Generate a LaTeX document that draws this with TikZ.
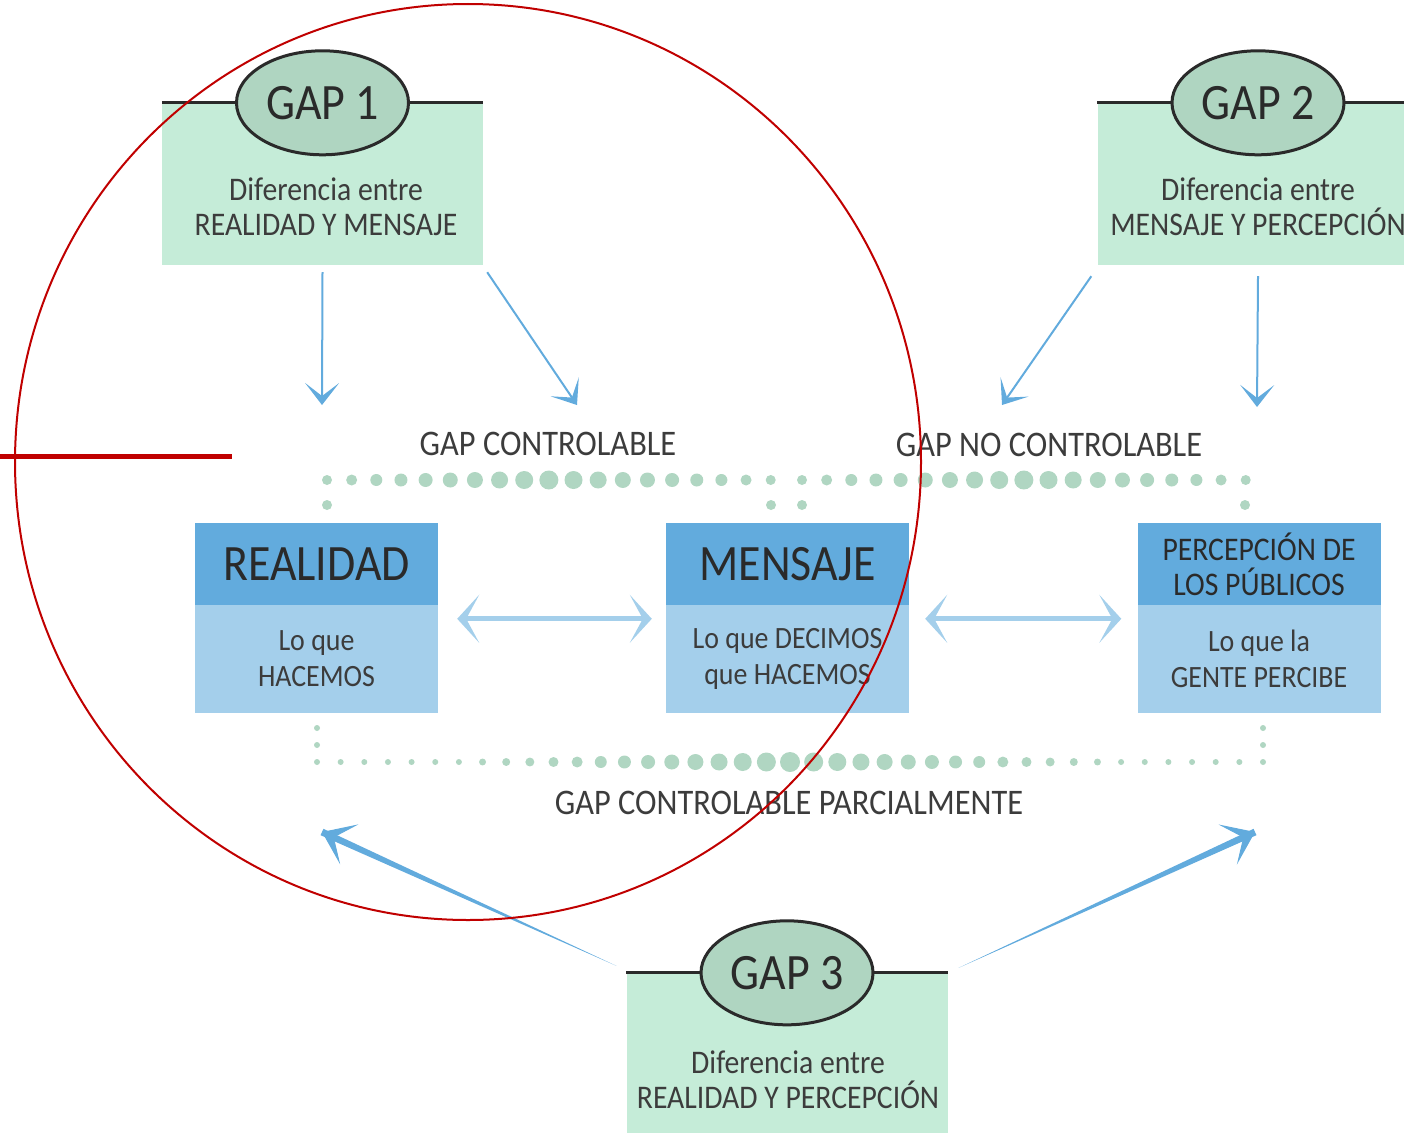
\documentclass[tikz,border=0pt]{standalone}
\usepackage{fontspec}
\setmainfont{Carlito}[FakeStretch=0.9]
\usetikzlibrary{calc,shapes.geometric,arrows.meta}
\definecolor{mint}{HTML}{C5ECD8}
\definecolor{sage}{HTML}{AFD5C1}
\definecolor{dotgreen}{HTML}{B0D6C2}
\definecolor{bluedark}{HTML}{62ABDD}
\definecolor{bluelight}{HTML}{A4CFEB}
\definecolor{inkdark}{HTML}{2A2A2A}
\definecolor{inkgrey}{HTML}{3C3C3C}
\definecolor{markred}{HTML}{C00000}
\tikzset{>=latex,
  gapbox/.style={fill=mint, minimum width=321pt, minimum height=162pt, inner sep=0pt},
  gapoval/.style={ellipse, draw=inkdark, fill=sage, line width=3pt, minimum width=172pt,
    minimum height=104pt, inner sep=0pt, text=inkdark, font=\fontsize{51}{56}\selectfont},
  gaptext/.style={align=center, inner sep=0pt, text=inkgrey, font=\fontsize{33}{35}\selectfont},
  headbox/.style={fill=bluedark, minimum width=243pt, minimum height=82pt, inner sep=0pt,
    align=center, text=inkdark, font=\fontsize{51}{56}\selectfont},
  bodybox/.style={fill=bluelight, minimum width=243pt, minimum height=108pt, inner sep=0pt,
    align=center, text=inkgrey, font=\fontsize{31}{36}\selectfont},
  zonelabel/.style={inner sep=0pt, text=inkgrey, font=\fontsize{36}{40}\selectfont},
  thinarrow/.style={draw=bluedark, line width=2pt, -{Stealth[length=22pt,width=34pt,inset=13pt]}},
  twoway/.style={draw=bluelight, line width=5pt,
    {Stealth[length=22pt,width=48pt,inset=13pt]}-{Stealth[length=22pt,width=48pt,inset=13pt]}},
}
\begin{document}
\begin{tikzpicture}[x=1pt, y=-1pt]
  \useasboundingbox (0,0) rectangle (1404,1132);

  % gap boxes
  \node[gapbox] (g1) at (322.5,184) {};
  \node[gapbox] (g2) at (1258,184) {};
  \node[gapbox] (g3) at (787,1054) {};
  \foreach \g in {g1,g2,g3}
    \draw[inkdark, line width=3pt] (\g.north west) -- (\g.north east);
  \node[gapoval] (g1o) at (g1.north) {GAP 1};
  \node[gapoval] (g2o) at (g2.north) {GAP 2};
  \node[gapoval] (g3o) at (g3.north) {GAP 3};
  \node[gaptext] (g1t) at (326,207) {Diferencia entre\\REALIDAD Y MENSAJE};
  \node[gaptext] (g2t) at (1258,207) {Diferencia entre\\MENSAJE Y PERCEPCIÓN};
  \node[gaptext] (g3t) at (788,1080) {Diferencia entre\\REALIDAD Y PERCEPCIÓN};

  % dotted brackets
  \foreach \sx in {327,802}
    \foreach \i in {0,...,18} {
      \pgfmathsetmacro\r{5+4.5*(1-abs(\i-9)/9)}
      \fill[dotgreen] (\sx+\i*24.65,480) circle[radius=\r pt];
    }
  \foreach \px in {327,771,802,1245}
    \fill[dotgreen] (\px,505) circle[radius=5pt];
  \foreach \i in {0,...,40} {
    \pgfmathsetmacro\r{3+7*max(0,1-abs(317+\i*23.65-790)/330)}
    \fill[dotgreen] (317+\i*23.65,762) circle[radius=\r pt];
  }
  \foreach \px in {317,1263}
    \foreach \py in {728,745}
      \fill[dotgreen] (\px,\py) circle[radius=3pt];
  \node[zonelabel] (ctrl) at (548,444) {GAP CONTROLABLE};
  \node[zonelabel] (noctrl) at (1049,445) {GAP NO CONTROLABLE};
  \node[zonelabel] (partial) at (789,803) {GAP CONTROLABLE PARCIALMENTE};

  % realidad, mensaje, percepcion
  \node[headbox] (real) at (316.5,564) {REALIDAD};
  \node[bodybox] (realb) at (316.5,659) {Lo que\\HACEMOS};
  \node[headbox] (mens) at (787.5,564) {MENSAJE};
  \node[bodybox] (mensb) at (787.5,659) {Lo que DECIMOS\\que HACEMOS};
  \node[headbox, font=\fontsize{33}{35}\selectfont] (perc) at (1259,564) {PERCEPCIÓN DE\\LOS PÚBLICOS};
  \node[bodybox] (percb) at (1259,659) {Lo que la\\GENTE PERCIBE};
  \draw[twoway] ([shift={(19pt,-14pt)}]realb.north east) -- ([shift={(-14pt,-14pt)}]mensb.north west);
  \draw[twoway] ([shift={(16pt,-14pt)}]mensb.north east) -- ([shift={(-16pt,-14pt)}]percb.north west);

  % arrows from the gaps
  \coordinate (a1) at (322,405);
  \coordinate (a2) at (577,405);
  \coordinate (a3) at (1002,405);
  \coordinate (a4) at (1257,407);
  \draw[thinarrow] ([yshift=-7pt]g1.south) -- (a1);
  \draw[thinarrow] ([shift={(4pt,-7pt)}]g1.south east) -- (a2);
  \draw[thinarrow] ([shift={(-6pt,-11pt)}]g2.south west) -- (a3);
  \draw[thinarrow] ([yshift=-11pt]g2.south) -- (a4);
  \coordinate (b1) at (322,832);
  \coordinate (b2) at (1255,832);
  \coordinate (s1) at ([shift={(-10pt,7pt)}]g3.north west);
  \coordinate (s2) at ([shift={(11pt,5pt)}]g3.north east);
  \foreach \s/\e in {s1/b1,s2/b2} {
    \fill[bluedark] (\s) -- ($(\e)!3.5pt!90:(\s)$) -- (\e) -- ($(\e)!3.5pt!-90:(\s)$) -- cycle;
    \draw[bluedark, line width=1pt, -{Stealth[length=30pt,width=44pt,inset=17pt]}] ($(\e)!30pt!(\s)$) -- (\e);
  }

  % red marks
  \draw[markred, line width=2pt] (468,462) ellipse[x radius=453pt, y radius=458pt];
  \draw[markred, line width=5pt] (0,456) -- (232,456);
\end{tikzpicture}
\end{document}
